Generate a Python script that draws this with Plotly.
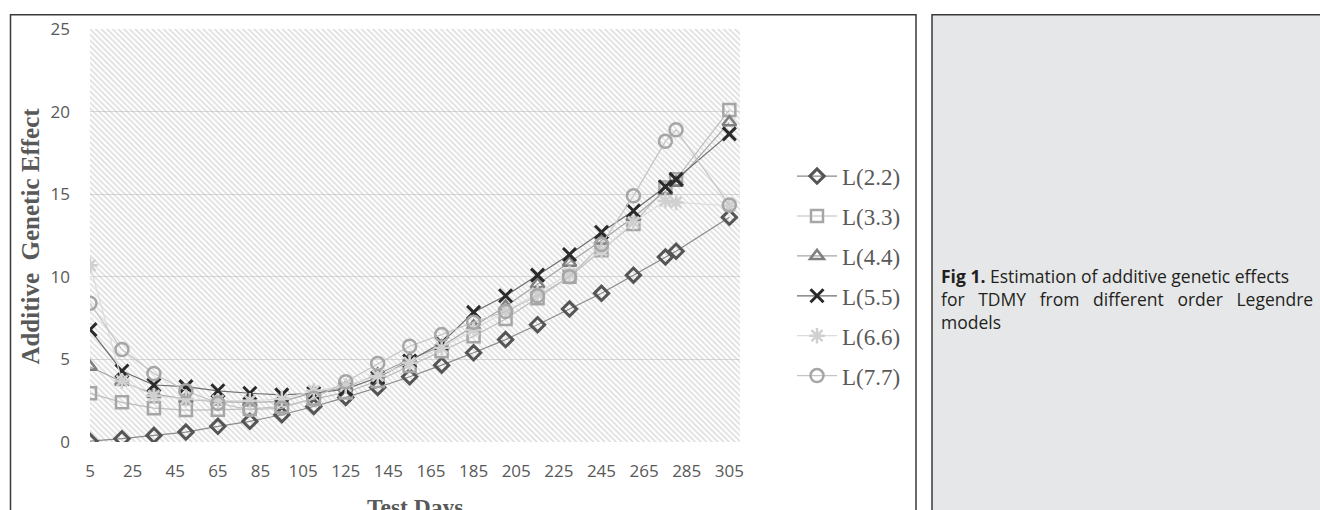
import plotly.graph_objects as go

days = [5, 20, 35, 50, 65, 80, 95, 110, 125, 140, 155, 170, 185, 200, 215, 230, 245, 260, 275, 280, 305]
L22 = [0.05, 0.2, 0.4, 0.6, 0.95, 1.25, 1.65, 2.15, 2.7, 3.3, 3.95, 4.65, 5.4, 6.2, 7.1, 8.05, 9.0, 10.1, 11.2, 11.55, 13.6]
L33 = [2.95, 2.4, 2.05, 1.93, 1.95, 2.0, 2.15, 2.6, 3.0, 3.7, 4.6, 5.5, 6.4, 7.45, 8.7, 10.0, 11.6, 13.2, 15.4, 15.9, 20.1]
L44 = [4.55, 3.65, 2.9, 2.6, 2.45, 2.4, 2.45, 3.0, 3.3, 4.1, 5.0, 5.8, 7.0, 8.2, 9.55, 10.85, 12.2, 13.6, 15.2, 15.7, 19.35]
L55 = [6.8, 4.3, 3.45, 3.35, 3.1, 2.95, 2.85, 2.95, 3.2, 3.9, 4.9, 6.0, 7.85, 8.85, 10.1, 11.35, 12.7, 14.0, 15.45, 15.9, 18.65]
L66 = [10.7, 3.7, 2.8, 2.6, 2.5, 2.5, 2.6, 3.1, 3.4, 4.0, 4.8, 5.7, 6.8, 7.9, 9.0, 10.2, 11.6, 13.3, 14.6, 14.5, 14.3]
L77 = [8.4, 5.6, 4.15, 3.1, 2.35, 1.95, 2.05, 2.65, 3.65, 4.75, 5.8, 6.5, 7.25, 7.9, 8.85, 10.0, 11.95, 14.9, 18.2, 18.9, 14.35]

names = ["L(2.2)", "L(3.3)", "L(4.4)", "L(5.5)", "L(6.6)", "L(7.7)"]
series = [L22, L33, L44, L55, L66, L77]
x_ticks = list(range(5, 306, 20))
y_ticks = [0, 5, 10, 15, 20, 25]

styles = [
    dict(symbol="diamond-open", mcolor="#555555", lcolor="#8a8a8a", size=11, lw=3),
    dict(symbol="square-open", mcolor="#a6a6a6", lcolor="#bdbdbd", size=12, lw=2.5),
    dict(symbol="triangle-up-open", mcolor="#7f7f7f", lcolor="#a6a6a6", size=12, lw=2.5),
    dict(symbol="x-thin", mcolor="#2a2a2a", lcolor="#6e6e6e", size=13, lw=3),
    dict(symbol="asterisk-open", mcolor="#d0d0d0", lcolor="#dcdcdc", size=13, lw=2.5),
    dict(symbol="circle-open", mcolor="#a6a6a6", lcolor="#c4c4c4", size=13, lw=2.5),
]

X0, X1 = 5, 310
Y0, Y1 = 0, 25

fig = go.Figure()

# hatched plot-area background
fig.add_trace(go.Scatter(
    x=[X0, X1, X1, X0, X0], y=[Y0, Y0, Y1, Y1, Y0],
    mode="lines", fill="toself", line=dict(width=0, color="rgba(0,0,0,0)"),
    fillcolor="rgba(0,0,0,0)",
    fillpattern=dict(shape="\\", fgcolor="#bcbcbc", bgcolor="rgba(255,255,255,0)", size=4, solidity=0.42),
    hoverinfo="skip", showlegend=False,
))

for name, vals, st in zip(names, series, styles):
    fig.add_trace(go.Scatter(
        x=days, y=vals, name=name, mode="lines+markers", legendgroup=name,
        line=dict(color=st["lcolor"], width=1.2),
        marker=dict(symbol=st["symbol"], size=st["size"], color=st["mcolor"],
                    line=dict(color=st["mcolor"], width=st["lw"])),
    ))

PL, PR, PT, PB = 90, 740, 29.3, 442.5
W, H = 1320, 510


def px(x):
    return (x - PL) / (PR - PL)


def py(y):
    return (PB - y) / (PB - PT)


shapes = [
    dict(type="rect", xref="paper", yref="paper", x0=px(10.5), x1=px(916), y0=py(530), y1=py(15),
         line=dict(color="#3a3a3a", width=1.5), fillcolor="rgba(0,0,0,0)", layer="below"),
    dict(type="rect", xref="paper", yref="paper", x0=px(932), x1=px(1340), y0=py(530), y1=py(15),
         line=dict(color="#3a3a3a", width=1.5), fillcolor="#e6e7e8", layer="below"),
]

cap_font = dict(family="Open Sans", size=17.5, color="#231f20")
nb = "\u00a0"
sp = nb * 2 + " "
caption = ("<b>Fig 1.</b> Estimation of additive genetic effects<br>"
           f"for{sp}TDMY{sp}from{sp}different{sp}order{sp}Legendre<br>"
           "models")
annotations = [
    dict(text=caption, xref="paper", yref="paper", align="left",
         x=px(939), y=py(299), xanchor="left", yanchor="middle", showarrow=False, font=cap_font),
    dict(text=f"<b>Additive{nb} Genetic Effect</b>", xref="paper", yref="paper", textangle=-90,
         x=px(31), y=py(237), xanchor="center", yanchor="middle", showarrow=False,
         font=dict(family="Liberation Serif", size=25, color="#595959")),
    dict(text="<b>Test Days</b>", xref="paper", yref="paper",
         x=px(415), y=py(493), xanchor="center", yanchor="top", showarrow=False,
         font=dict(family="Liberation Serif", size=23.5, color="#595959")),
]

fig.update_layout(
    width=W, height=H,
    margin=dict(l=PL, r=W - PR, t=PT, b=H - PB),
    paper_bgcolor="white", plot_bgcolor="white",
    shapes=shapes, annotations=annotations,
    showlegend=True,
    legend=dict(x=px(792), y=py(155), xanchor="left", yanchor="top",
                font=dict(family="Liberation Serif", size=23, color="#595959"),
                tracegroupgap=7, bgcolor="rgba(0,0,0,0)", itemwidth=40),
    xaxis=dict(range=[X0, X1], tickmode="array", tickvals=x_ticks, ticktext=[str(v) for v in x_ticks],
               showgrid=False, zeroline=False, showline=False, ticks="",
               ticklabelstandoff=17,
               tickfont=dict(family="Open Sans", size=17, color="#595959")),
    yaxis=dict(range=[Y0, Y1], tickmode="array", tickvals=y_ticks, ticktext=[str(v) for v in y_ticks],
               showgrid=True, gridcolor="#d9d9d9", gridwidth=1, zeroline=False, showline=False, ticks="",
               ticklabelstandoff=19,
               tickfont=dict(family="Open Sans", size=17, color="#595959")),
)

fig.write_html("out.html", config={"displayModeBar": False},
               post_script="document.body.style.margin='0px';document.body.style.overflow='hidden';")
